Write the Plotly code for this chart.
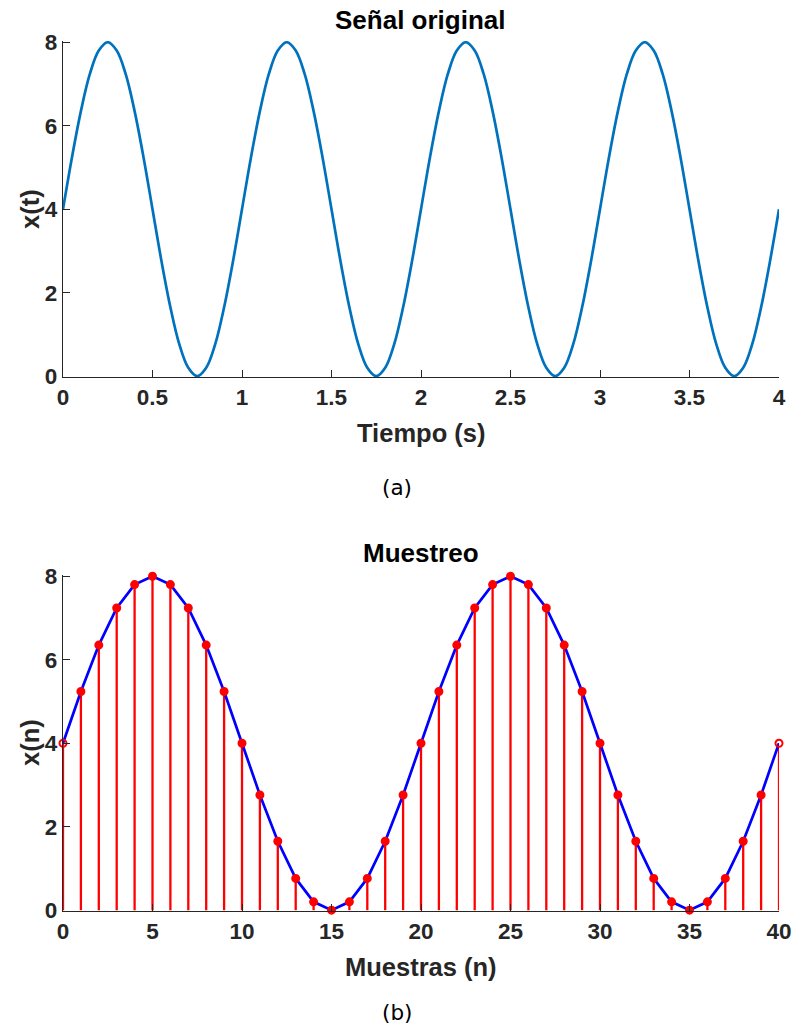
import plotly.graph_objects as go

# ---- data ----
t_vals = [i * 0.05 for i in range(81)]  # time axis, seconds (sample instants)
x_t = [4.00, 5.24, 6.35, 7.24, 7.80, 8.00, 7.80, 7.24, 6.35, 5.24,
       4.00, 2.76, 1.65, 0.76, 0.20, 0.00, 0.20, 0.76, 1.65, 2.76,
       4.00, 5.24, 6.35, 7.24, 7.80, 8.00, 7.80, 7.24, 6.35, 5.24,
       4.00, 2.76, 1.65, 0.76, 0.20, 0.00, 0.20, 0.76, 1.65, 2.76,
       4.00, 5.24, 6.35, 7.24, 7.80, 8.00, 7.80, 7.24, 6.35, 5.24,
       4.00, 2.76, 1.65, 0.76, 0.20, 0.00, 0.20, 0.76, 1.65, 2.76,
       4.00, 5.24, 6.35, 7.24, 7.80, 8.00, 7.80, 7.24, 6.35, 5.24,
       4.00, 2.76, 1.65, 0.76, 0.20, 0.00, 0.20, 0.76, 1.65, 2.76,
       4.00]

n_vals = list(range(41))
x_n = [4.00, 5.24, 6.35, 7.24, 7.80, 8.00, 7.80, 7.24, 6.35, 5.24,
       4.00, 2.76, 1.65, 0.76, 0.20, 0.00, 0.20, 0.76, 1.65, 2.76,
       4.00, 5.24, 6.35, 7.24, 7.80, 8.00, 7.80, 7.24, 6.35, 5.24,
       4.00, 2.76, 1.65, 0.76, 0.20, 0.00, 0.20, 0.76, 1.65, 2.76,
       4.00]

top_xticks = [0, 0.5, 1, 1.5, 2, 2.5, 3, 3.5, 4]
bot_xticks = [0, 5, 10, 15, 20, 25, 30, 35, 40]
yticks = [0, 2, 4, 6, 8]

W, H = 794, 1036
AX = "#262626"
FONT = "Liberation Sans, Arial, sans-serif"

def px(x):
    return x / W

def py(y):
    return 1 - y / H

fig = go.Figure()

# top signal
fig.add_trace(go.Scatter(x=t_vals, y=x_t, mode="lines",
                         line=dict(color="#0072BD", width=2.7, shape="spline", smoothing=1.0),
                         xaxis="x", yaxis="y", showlegend=False, hoverinfo="skip"))

# stems
sx, sy = [], []
for n, v in zip(n_vals, x_n):
    sx += [n, n, None]
    sy += [0, v, None]
fig.add_trace(go.Scatter(x=sx, y=sy, mode="lines", line=dict(color="#FF0000", width=2.3),
                         xaxis="x2", yaxis="y2", showlegend=False, hoverinfo="skip"))
# blue line
fig.add_trace(go.Scatter(x=n_vals, y=x_n, mode="lines", line=dict(color="#0000FF", width=2.7),
                         xaxis="x2", yaxis="y2", showlegend=False, hoverinfo="skip"))
# markers
symbols = ["circle-open" if i in (0, len(n_vals) - 1) else "circle" for i in range(len(n_vals))]
fig.add_trace(go.Scatter(x=n_vals, y=x_n, mode="markers",
                         marker=dict(color="#FF0000", size=7, symbol=symbols,
                                     line=dict(color="#FF0000", width=2)),
                         xaxis="x2", yaxis="y2", showlegend=False, hoverinfo="skip", cliponaxis=False))

common = dict(showline=True, linecolor=AX, linewidth=1.3, ticks="inside", ticklen=7, tickwidth=1.2,
              tickcolor=AX, showgrid=False, zeroline=False, automargin=False,
              tickfont=dict(family=FONT, size=22.5, color=AX, weight="bold"))

XL, XR = 63, 779
fig.update_layout(
    width=W, height=H, margin=dict(l=0, r=0, t=0, b=0, pad=0),
    paper_bgcolor="white", plot_bgcolor="white",
    xaxis=dict(domain=[px(XL), px(XR)], range=[0, 4], tickvals=top_xticks,
               ticktext=[f"{v:g}" for v in top_xticks], anchor="y", **common),
    yaxis=dict(domain=[py(377), py(41)], range=[-0.02, 8.03], tickvals=yticks, anchor="x", **common),
    xaxis2=dict(domain=[px(XL), px(XR)], range=[0, 40], tickvals=bot_xticks, anchor="y2", **common),
    yaxis2=dict(domain=[py(911), py(575)], range=[-0.02, 8.03], tickvals=yticks, anchor="x2", **common),
)

ann = []
def label(text, x, y, size, bold=True, angle=0, family=FONT, color="black"):
    ann.append(dict(text=text, x=px(x), y=py(y), xref="paper", yref="paper", showarrow=False,
                    xanchor="center", yanchor="middle", textangle=angle,
                    font=dict(family=family, size=size, color=color, weight="bold" if bold else "normal")))

XC = (XL + XR) / 2
label("Señal original", XC, 20, 26)
label("Tiempo (s)", XC, 433, 25.5, color=AX)
label("x(t)", 30, 209, 25.5, angle=-90, color=AX)
label("(a)", 397, 488, 21.5, bold=False, family="DejaVu Sans, sans-serif")
label("Muestreo", XC, 553, 26)
label("Muestras (n)", XC, 967, 25.5, color=AX)
label("x(n)", 30, 743, 25.5, angle=-90, color=AX)
label("(b)", 397, 1012, 21.5, bold=False, family="DejaVu Sans, sans-serif")
fig.update_layout(annotations=ann)

fig.write_html("out.html")
